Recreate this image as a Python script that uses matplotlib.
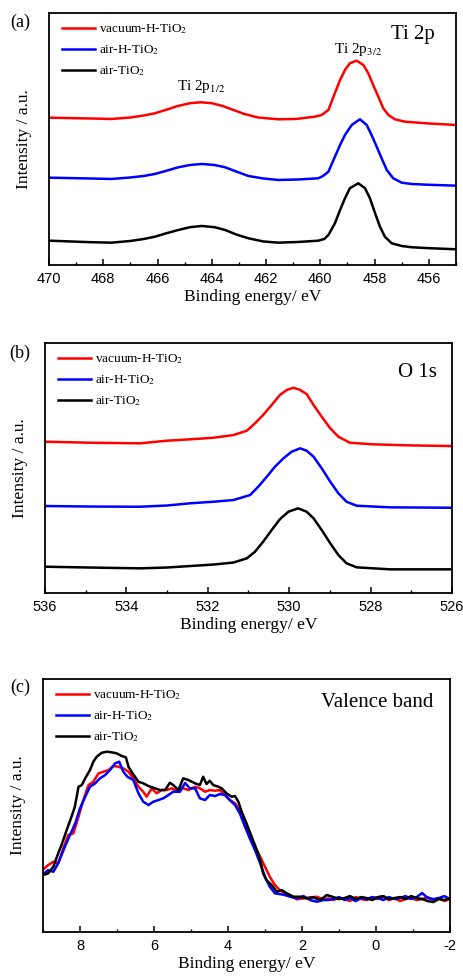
import numpy as np
import matplotlib
matplotlib.use("Agg")
import matplotlib.pyplot as plt
from matplotlib.ticker import MultipleLocator

plt.rcParams["font.family"] = ["Liberation Serif", "DejaVu Serif"]
plt.rcParams["mathtext.fontset"] = "stix"
plt.rcParams["axes.unicode_minus"] = False

labels = ["vacuum-H-TiO$_2$", "air-H-TiO$_2$", "air-TiO$_2$"]
colors = ["#ff0000", "#0000ff", "#000000"]

# (a) Ti 2p
ti_e_red = [470.0, 468.5, 467.7, 467.0, 466.5, 466.1, 465.7, 465.25, 464.8, 464.4,
            464.0, 463.6, 463.2, 462.8, 462.3, 461.55, 460.9, 460.2, 459.95,
            459.70, 459.46, 459.27, 459.09, 458.91, 458.66, 458.41, 458.23, 458.05,
            457.86, 457.68, 457.49, 457.25, 456.88, 456.0, 455.0]
ti_red = [147.3, 146.5, 146.0, 147.5, 149.5, 151.7, 155.0, 159.0, 161.8, 162.7,
          161.8, 159.0, 155.0, 151.0, 147.5, 145.7, 146.0, 148.3, 150.0,
          155.0, 172.0, 185.0, 195.0, 201.7, 204.3, 200.0, 191.7, 180.0,
          168.3, 156.7, 150.0, 145.7, 143.3, 141.5, 140.0]
ti_e_blue = [470.0, 468.5, 467.7, 467.0, 466.5, 466.1, 465.7, 465.23, 464.8, 464.37,
             463.9, 463.51, 463.1, 462.65, 462.1, 461.55, 460.8, 460.07, 459.9,
             459.70, 459.46, 459.27, 459.09, 458.84, 458.54, 458.29, 458.11, 457.92,
             457.74, 457.55, 457.31, 457.0, 456.63, 456.0, 455.0]
ti_blue = [87.3, 86.5, 86.0, 87.5, 89.0, 91.0, 94.0, 97.7, 100.0, 101.0,
           100.0, 97.7, 93.5, 89.0, 86.5, 85.0, 85.5, 86.7, 89.0,
           93.3, 108.3, 120.0, 130.0, 140.0, 145.7, 140.0, 130.0, 118.3,
           106.7, 95.0, 86.7, 82.3, 81.0, 80.2, 79.3]
ti_e_black = [470.0, 468.5, 467.7, 467.0, 466.5, 466.09, 465.7, 465.23, 464.8, 464.37,
              463.9, 463.51, 463.1, 462.65, 462.1, 461.55, 460.8, 460.07, 459.85,
              459.70, 459.46, 459.27, 459.09, 458.91, 458.60, 458.35, 458.17, 457.98,
              457.80, 457.62, 457.37, 457.0, 456.63, 456.0, 455.0]
ti_black = [24.3, 22.8, 22.3, 24.0, 26.0, 28.3, 31.5, 35.0, 37.8, 39.0,
            37.8, 35.0, 30.5, 26.7, 23.5, 22.3, 23.0, 24.3, 26.0,
            30.0, 41.7, 55.0, 66.7, 76.7, 81.7, 76.7, 66.7, 51.7,
            38.3, 28.3, 21.7, 19.0, 17.7, 16.8, 15.7]

# (b) O 1s
o_e_red = [535.96, 534.89, 533.67, 533.01, 532.44, 531.86, 531.37, 531.04, 530.84,
           530.64, 530.43, 530.23, 530.06, 529.90, 529.75, 529.57, 529.40, 529.20,
           528.99, 528.79, 528.51, 527.93, 527.11, 526.05]
o_red = [151.3, 150.3, 149.7, 152.3, 153.7, 155.3, 158.0, 162.3, 169.7,
         178.0, 188.0, 198.0, 203.0, 205.3, 203.5, 199.0, 188.0, 176.3,
         164.7, 156.3, 150.3, 148.7, 147.7, 147.0]
o_e_blue = [535.96, 534.89, 533.67, 533.01, 532.44, 531.86, 531.37, 530.96, 530.76,
            530.55, 530.35, 530.14, 529.94, 529.73, 529.57, 529.40, 529.20, 528.99,
            528.79, 528.59, 528.34, 527.52, 526.05]
o_blue = [87.0, 86.5, 86.3, 87.5, 89.7, 91.3, 93.0, 98.0, 106.3,
          116.3, 126.3, 134.7, 141.3, 144.7, 142.3, 136.3, 124.7, 111.3,
          99.7, 91.3, 87.3, 85.7, 85.3]
o_e_black = [535.96, 534.89, 533.67, 533.01, 532.44, 531.86, 531.37, 531.04, 530.84,
             530.64, 530.43, 530.23, 530.02, 529.78, 529.57, 529.40, 529.20, 528.99,
             528.79, 528.59, 528.34, 527.52, 526.05]
o_black = [26.3, 25.5, 24.7, 25.5, 27.0, 28.5, 30.5, 34.7, 41.3,
           51.3, 63.0, 73.7, 81.3, 84.7, 81.3, 74.7, 63.0, 49.7,
           38.0, 29.7, 25.7, 23.7, 23.7]

# (c) valence band
vb_tail_e = [1.15, 1.0, 0.85, 0.7, 0.55, 0.4, 0.25, 0.1, -0.05, -0.2, -0.35,
             -0.5, -0.65, -0.8, -0.95, -1.1, -1.25, -1.4, -1.55, -1.7, -1.85, -2.0]

vb_e_black = [8.99, 8.86, 8.72, 8.59, 8.50, 8.36, 8.23, 8.14, 8.04, 7.95, 7.86,
              7.73, 7.64, 7.55, 7.41, 7.28, 7.14, 7.01, 6.87, 6.76, 6.69, 6.58,
              6.42, 6.29, 6.15, 5.97, 5.84, 5.70, 5.57, 5.48, 5.34, 5.21, 5.07,
              4.89, 4.76, 4.67, 4.58, 4.49, 4.40, 4.26, 4.17, 4.04, 3.90, 3.81,
              3.72, 3.63, 3.50, 3.36, 3.22, 3.13, 3.05, 2.96, 2.82, 2.68, 2.55,
              2.41, 2.23, 2.05, 1.87, 1.69, 1.51, 1.33] + vb_tail_e
vb_black = [57.0, 58.7, 65.3, 78.7, 87.0, 102.0, 115.3, 125.3, 145.3, 147.0, 153.7,
            162.0, 170.3, 175.3, 179.3, 180.3, 179.7, 178.7, 176.0, 174.7, 165.3, 158.7,
            150.3, 148.7, 146.0, 143.7, 142.0, 142.0, 149.3, 147.0, 142.0, 153.7, 152.0,
            148.7, 147.0, 155.3, 148.0, 151.3, 147.0, 145.3, 143.7, 138.7, 135.3, 136.0,
            130.3, 120.3, 108.7, 95.3, 82.0, 72.0, 58.7, 52.0, 47.0, 40.3, 42.0,
            38.7, 35.3, 35.3, 33.7, 34.7, 32.0, 37.0,
            35, 33, 34, 36, 33, 35, 34, 32, 35, 36, 33, 34, 35, 33, 36, 34, 33, 31,
            30, 33, 32, 34]

vb_e_blue = [8.99, 8.86, 8.72, 8.59, 8.41, 8.27, 8.13, 8.00, 7.86, 7.73, 7.59,
             7.46, 7.32, 7.19, 7.05, 6.94, 6.83, 6.72, 6.56, 6.42, 6.29, 6.15,
             6.02, 5.88, 5.75, 5.61, 5.48, 5.30, 5.16, 5.03, 4.89, 4.76, 4.62,
             4.49, 4.35, 4.22, 4.08, 3.95, 3.81, 3.68, 3.54, 3.41, 3.27, 3.13,
             3.00, 2.87, 2.73, 2.60, 2.46, 2.32, 2.14, 1.96, 1.78, 1.60, 1.42,
             1.29] + vb_tail_e
vb_blue = [58.0, 62.0, 60.3, 68.7, 85.3, 97.0, 108.7, 123.7, 135.3, 145.3, 148.7,
           153.7, 157.0, 162.0, 168.7, 170.3, 160.3, 155.3, 152.0, 138.7, 130.3, 127.0,
           130.3, 132.0, 133.7, 137.0, 140.3, 140.3, 149.0, 143.7, 143.7, 133.7, 132.0,
           137.0, 136.0, 138.0, 137.0, 132.0, 127.0, 118.7, 105.3, 93.7, 82.0, 68.7,
           55.3, 45.3, 38.7, 38.0, 37.0, 35.3, 33.7, 36.0, 32.0, 30.3, 32.0,
           32.0,
           33, 35, 32, 34, 31, 34, 33, 35, 34, 32, 35, 33, 34, 36, 33, 35, 39, 34,
           33, 34, 36, 33]

vb_e_red = [8.99, 8.86, 8.72, 8.59, 8.45, 8.32, 8.18, 8.04, 7.91, 7.77, 7.64,
            7.50, 7.37, 7.23, 7.10, 6.96, 6.83, 6.69, 6.56, 6.42, 6.29, 6.20,
            6.06, 5.93, 5.79, 5.66, 5.52, 5.39, 5.21, 5.07, 4.89, 4.76, 4.62,
            4.49, 4.35, 4.22, 4.08, 3.95, 3.81, 3.68, 3.54, 3.41, 3.27, 3.13,
            3.00, 2.87, 2.73, 2.60, 2.46, 2.32, 2.14, 1.96, 1.78, 1.60, 1.42,
            1.29] + vb_tail_e
vb_red = [62.7, 67.0, 70.3, 68.7, 83.7, 97.0, 98.7, 115.3, 132.0, 147.0, 150.3,
          158.7, 160.3, 162.0, 166.0, 165.3, 163.7, 160.3, 153.7, 145.3, 140.3, 135.3,
          143.7, 138.7, 142.0, 142.0, 143.7, 141.3, 143.7, 142.0, 145.3, 143.7, 140.3,
          142.0, 141.3, 142.0, 137.0, 132.0, 128.7, 122.0, 110.3, 97.0, 85.3, 75.3,
          65.3, 55.3, 47.0, 42.0, 38.7, 37.0, 32.7, 33.7, 34.7, 35.3, 32.7,
          33.7,
          32, 34, 33, 31, 35, 33, 32, 34, 33, 35, 32, 34, 31, 33, 34, 32, 33, 35,
          32, 34, 31, 33]

fig = plt.figure(figsize=(4.64, 9.77), dpi=100)
ax_a = fig.add_axes([0.1056, 0.7288, 0.877, 0.2579])
ax_b = fig.add_axes([0.097, 0.393, 0.877, 0.2559])
ax_c = fig.add_axes([0.0927, 0.046, 0.877, 0.259])


def style(ax, xlim, ylim, major, minor):
    ax.set_xlim(*xlim)
    ax.set_ylim(*ylim)
    ax.set_yticks([])
    ax.xaxis.set_major_locator(MultipleLocator(major))
    ax.xaxis.set_minor_locator(MultipleLocator(minor))
    ax.tick_params(axis="x", which="both", direction="in", top=False,
                   labelsize=10.5, pad=5, labelfontfamily="Liberation Sans")
    ax.tick_params(axis="x", which="major", length=4.5, width=1.1)
    ax.tick_params(axis="x", which="minor", length=2.5, width=1.0)
    for sp in ax.spines.values():
        sp.set_linewidth(1.3)
    ax.set_xlabel("Binding energy/ eV", fontsize=12.5, labelpad=2)
    ax.set_ylabel("Intensity / a.u.", fontsize=12.5, labelpad=12)
    ax.legend(loc="upper left", frameon=False, fontsize=9.5, handlelength=2.5,
              handletextpad=0.3, labelspacing=0.55, borderaxespad=0.3,
              bbox_to_anchor=(0.01, 1.0))


for xs, ys, c, lab in zip([ti_e_red, ti_e_blue, ti_e_black],
                          [ti_red, ti_blue, ti_black], colors, labels):
    ax_a.plot(xs, ys, color=c, lw=1.8, label=lab)
style(ax_a, (470, 455), (0, 252), 2, 1)
ax_a.text(464.4, 178, "Ti 2p$_{1/2}$", ha="center", va="center", fontsize=11)
ax_a.text(458.6, 215, "Ti 2p$_{3/2}$", ha="center", va="center", fontsize=11)
ax_a.text(0.894, 0.913, "Ti 2p", transform=ax_a.transAxes, ha="center",
          va="center", fontsize=15)

for xs, ys, c, lab in zip([o_e_red, o_e_blue, o_e_black],
                          [o_red, o_blue, o_black], colors, labels):
    ax_b.plot(xs, ys, color=c, lw=1.8, label=lab)
style(ax_b, (536, 526), (0, 250), 2, 1)
ax_b.text(0.914, 0.884, "O 1s", transform=ax_b.transAxes, ha="center",
          va="center", fontsize=15)

for xs, ys, c, lab in zip([vb_e_red, vb_e_blue, vb_e_black],
                          [vb_red, vb_blue, vb_black], colors, labels):
    ax_c.plot(xs, ys, color=c, lw=1.8, label=lab)
style(ax_c, (9, -2), (0, 253), 2, 1)
ax_c.text(0.82, 0.909, "Valence band", transform=ax_c.transAxes, ha="center",
          va="center", fontsize=15)

fig.text(20 / 464, 1 - 22 / 977, "(a)", ha="center", va="center", fontsize=13)
fig.text(20 / 464, 1 - 353 / 977, "(b)", ha="center", va="center", fontsize=13)
fig.text(20 / 464, 1 - 687 / 977, "(c)", ha="center", va="center", fontsize=13)

fig.savefig("out.png", dpi=100)
